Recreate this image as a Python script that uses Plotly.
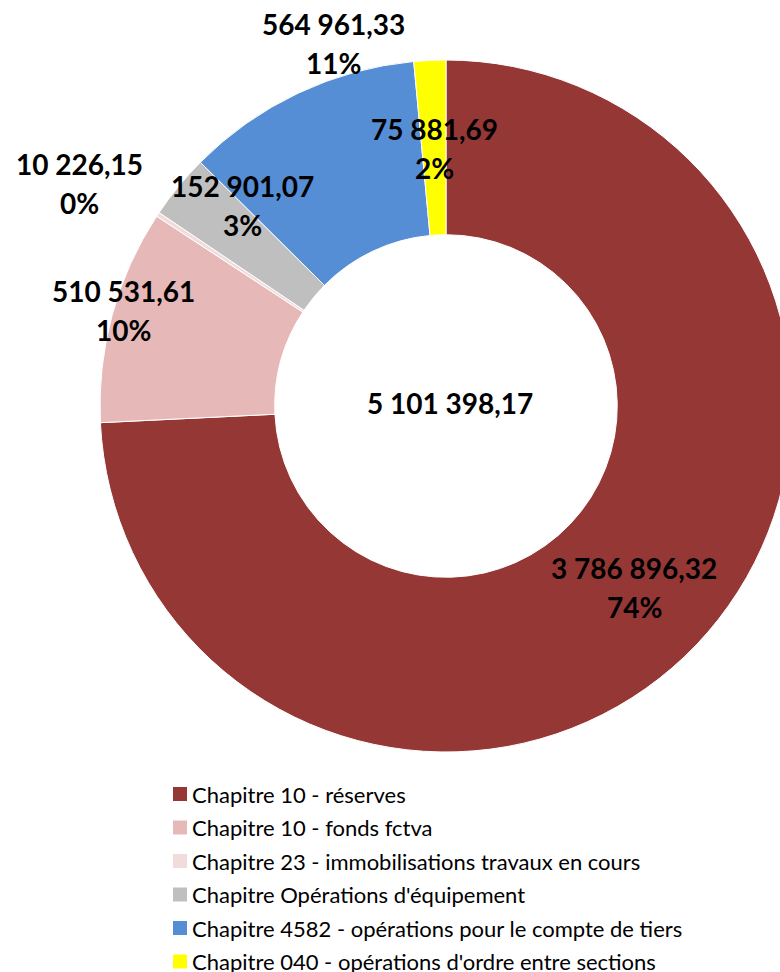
import math
import plotly.graph_objects as go

# ---- data ----
labels = [
    "Chapitre 10 - réserves",
    "Chapitre 10 - fonds fctva",
    "Chapitre 23 - immobilisations travaux en cours",
    "Chapitre Opérations d'équipement",
    "Chapitre 4582 - opérations pour le compte de tiers",
    "Chapitre 040 - opérations d'ordre entre sections",
]
values = [3786896.32, 510531.61, 10226.15, 152901.07, 564961.33, 75881.69]
colors = ["#953735", "#E6B9B8", "#F2DCDB", "#BFBFBF", "#558ED5", "#FFFF00"]

# ---- layout constants (pixels) ----
W, H = 800, 972
CX, CY, R = 446, 406, 346
HOLE = 0.495
# label offsets relative to ring mid-point (Excel moved some labels outward)
label_offsets = [(1, 3), (-73, -27), (-151, -79), (-4, -36), (-2, -129), (1, 1)]
LINE_HALF = 19.5
LABEL_FONT = dict(family="Lato", size=28, color="black")
LEG_FONT = dict(family="Lato", size=22, color="black")
LEG_X0, LEG_Y0, LEG_DY, LEG_SQ = 173, 794, 33.5, 14


def fmt(v):
    s = f"{v:,.2f}"
    return s.replace(",", " ").replace(".", ",")


def pct_largest_remainder(vals):
    tot = sum(vals)
    raw = [v / tot * 100 for v in vals]
    fl = [math.floor(r) for r in raw]
    rem = 100 - sum(fl)
    order = sorted(range(len(vals)), key=lambda i: raw[i] - fl[i], reverse=True)
    for i in order[:rem]:
        fl[i] += 1
    return fl


def px(x):
    return x / W


def py(y):
    return 1 - y / H


total = sum(values)
pcts = pct_largest_remainder(values)

fig = go.Figure(
    go.Pie(
        labels=labels,
        values=values,
        marker=dict(colors=colors, line=dict(color="white", width=1)),
        hole=HOLE,
        sort=False,
        direction="clockwise",
        rotation=0,
        textinfo="none",
        hoverinfo="label+value+percent",
        domain=dict(x=[px(CX - R), px(CX + R)], y=[py(CY + R), py(CY - R)]),
        showlegend=False,
    )
)

annotations = []
shapes = []
mid_r = R * (1 + HOLE) / 2
cum = 0.0
for i, v in enumerate(values):
    frac = v / total
    mid = cum + frac / 2
    cum += frac
    ang = 2 * math.pi * mid
    lx = CX + mid_r * math.sin(ang) + label_offsets[i][0]
    ly = CY - mid_r * math.cos(ang) + label_offsets[i][1]
    for txt, yy in ((fmt(v), ly - LINE_HALF), (f"{pcts[i]}%", ly + LINE_HALF)):
        annotations.append(dict(
            x=px(lx), y=py(yy), xref="paper", yref="paper",
            text=f"<b>{txt}</b>", showarrow=False,
            xanchor="center", yanchor="middle", font=LABEL_FONT,
        ))

annotations.append(dict(
    x=px(450), y=py(403), xref="paper", yref="paper",
    text=f"<b>{fmt(total)}</b>", showarrow=False,
    xanchor="center", yanchor="middle", font=LABEL_FONT,
))

# manual legend (square markers + text)
for i, (lab, col) in enumerate(zip(labels, colors)):
    yc = LEG_Y0 + i * LEG_DY
    shapes.append(dict(
        type="rect", xref="paper", yref="paper",
        x0=px(LEG_X0), x1=px(LEG_X0 + LEG_SQ),
        y0=py(yc - LEG_SQ / 2), y1=py(yc + LEG_SQ / 2),
        fillcolor=col, line=dict(width=0),
    ))
    annotations.append(dict(
        x=px(LEG_X0 + LEG_SQ + 3), y=py(yc), xref="paper", yref="paper",
        text=lab, showarrow=False, xanchor="left", yanchor="middle",
        font=LEG_FONT,
    ))

fig.update_layout(
    width=W, height=H,
    margin=dict(l=0, r=0, t=0, b=0),
    paper_bgcolor="white", plot_bgcolor="white",
    annotations=annotations, shapes=shapes,
)

fig.write_html(
    "out.html",
    config={"displayModeBar": False},
    post_script="document.body.style.margin='0';document.body.style.overflow='hidden';"
                "document.documentElement.style.overflow='hidden';",
)
